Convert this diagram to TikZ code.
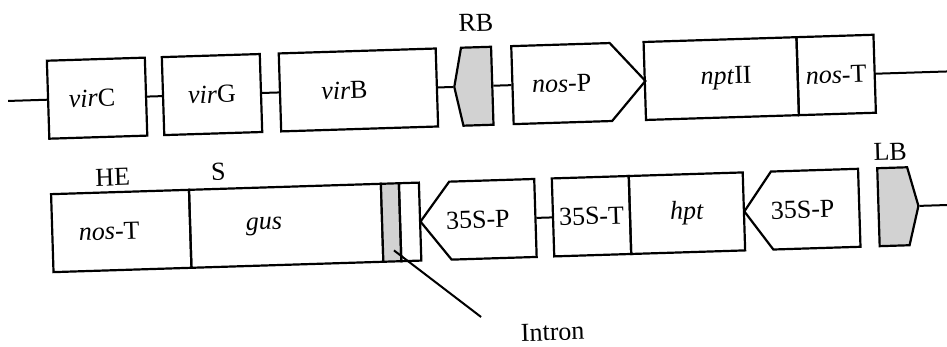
\documentclass[tikz,border=0pt]{standalone}
\usepackage{fontspec}
\setmainfont{Liberation Serif}
\usetikzlibrary{shapes.symbols}

\begin{document}
\begin{tikzpicture}[x=1pt, y=-1pt,
  every node/.style={font=\fontsize{26}{30}\selectfont},
  gene/.style={draw, rectangle, line width=2.2pt, minimum height=78pt, inner sep=0pt},
  prom/.style={gene, signal, signal to=#1},
  border/.style={prom=#1, fill=gray!35},
  link/.style={line width=2pt}]
  \useasboundingbox (0,0) rectangle (947,347);
  % the scan is a little tilted, so the whole map is turned
  \begin{scope}[rotate around={1.8:(470,170)}, transform shape]
  % Top row: vir genes, right border, nptII cassette
  \coordinate (top-in) at (10.5,86.5);
  \node[gene, minimum width=98pt, label={[xshift=-5pt]center:\textit{vir}C}] (virC) at (99.5,86.5) {};
  \node[gene, minimum width=98pt] (virG) at (214.5,86.5) {\textit{vir}G};
  \node[gene, minimum width=157pt, label={[xshift=-14pt]center:\textit{vir}B}] (virB) at (361,86.5) {};
  \node[border=west, signal pointer angle=157, minimum width=38pt, anchor=east] (RB) at (496,86.5) {};
  \node[prom=east, signal pointer angle=97, minimum width=133pt, anchor=west] (nosP) at (514,86.5) {\textit{nos}-P};
  \node[gene, minimum width=153pt, label={[xshift=5pt]center:\textit{npt}II}] (nptII) at (724,86.5) {};
  \node[gene, minimum width=77pt] (nosT) at (839,86.5) {\textit{nos}-T};
  \coordinate (top-out) at (950,86.5);
  \node (RBlabel) at (480.5,23) {RB};

  \draw[link] (top-in) -- (virC);
  \draw[link] (virC) -- (virG);
  \draw[link] (virG) -- (virB);
  \draw[link] (virB) -- (RB);
  \draw[link] (RB) -- (nosP);
  \draw[link] (nosT) -- (top-out);

  % Bottom row: gus with intron, hpt cassette, left border
  \node[gene, minimum width=138pt, label={[xshift=-12pt]center:\textit{nos}-T}] (nosT2) at (119.5,220) {};
  \node[gene, minimum width=192pt, label={[xshift=-22pt]center:\textit{gus}}] (gus) at (284.5,220) {};
  \node[gene, fill=gray!35, minimum width=18pt] (intron) at (389.5,220) {};
  \node[gene, minimum width=20pt] (exon) at (408.5,220) {};
  \node[prom=west, signal pointer angle=105, minimum width=115pt, anchor=east,
        label={[xshift=-15pt]center:35S-P}] (P35S1) at (535,220) {};
  \node[gene, minimum width=77pt] (T35S) at (590,220) {35S-T};
  \node[gene, minimum width=114pt] (hpt) at (685.5,220) {\textit{hpt}};
  \node[prom=west, signal pointer angle=109, minimum width=115pt, anchor=east,
        label={[xshift=-13pt]center:35S-P}] (P35S2) at (859,220) {};
  \node[border=east, signal pointer angle=151, minimum width=40pt, anchor=west] (LB) at (876,220) {};
  \coordinate (bot-out) at (950,220);
  \node (HE) at (112.5,166) {HE};
  \node (S) at (218.5,164) {S};
  \node (LBlabel) at (890.5,165) {LB};

  \draw[link] (P35S1) -- (T35S);
  \draw[link] (LB) -- (bot-out);

  % pointer to the intron
  \coordinate (intron-in) at (391.5,248);
  \coordinate (intron-out) at (476.5,317.3);
  \node (Intron) at (547.5,334.5) {Intron};
  \draw[link] (intron-in) -- (intron-out);
  \end{scope}
\end{tikzpicture}
\end{document}
